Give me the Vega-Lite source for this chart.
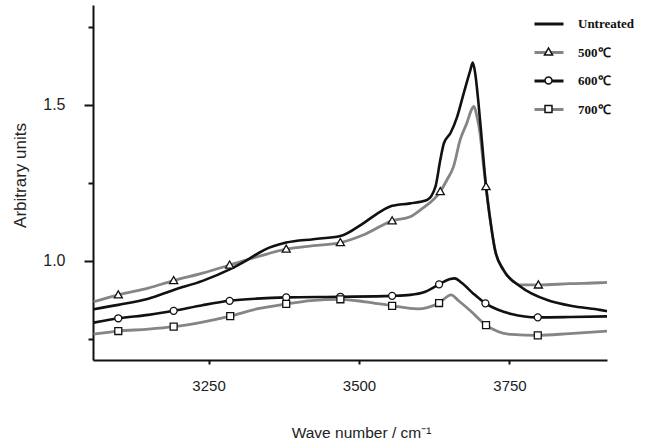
{
  "$schema": "https://vega.github.io/schema/vega-lite/v6.json",
  "width": 514,
  "height": 355,
  "autosize": {"type": "none"},
  "padding": {"left": 93, "top": 5, "right": 44, "bottom": 83},
  "background": "white",
  "config": {
    "view": {"stroke": null},
    "axis": {"grid": false, "domainColor": "#111", "domainWidth": 2, "tickColor": "#111", "tickWidth": 2, "labelColor": "#222", "titleColor": "#222", "labelFont": "Liberation Sans", "titleFont": "Liberation Sans", "titleFontWeight": "normal"}
  },
  "datasets": {
    "curves": [
      {"s": "Untreated", "w": 3059, "a": 0.844},
      {"s": "Untreated", "w": 3100, "a": 0.858},
      {"s": "Untreated", "w": 3150, "a": 0.878},
      {"s": "Untreated", "w": 3192, "a": 0.906},
      {"s": "Untreated", "w": 3240, "a": 0.935},
      {"s": "Untreated", "w": 3285, "a": 0.972},
      {"s": "Untreated", "w": 3314, "a": 1.002},
      {"s": "Untreated", "w": 3342, "a": 1.034},
      {"s": "Untreated", "w": 3379, "a": 1.058},
      {"s": "Untreated", "w": 3424, "a": 1.069},
      {"s": "Untreated", "w": 3469, "a": 1.079},
      {"s": "Untreated", "w": 3507, "a": 1.12},
      {"s": "Untreated", "w": 3535, "a": 1.157},
      {"s": "Untreated", "w": 3555, "a": 1.176},
      {"s": "Untreated", "w": 3585, "a": 1.184},
      {"s": "Untreated", "w": 3613, "a": 1.195},
      {"s": "Untreated", "w": 3627, "a": 1.238},
      {"s": "Untreated", "w": 3635, "a": 1.323},
      {"s": "Untreated", "w": 3641, "a": 1.377},
      {"s": "Untreated", "w": 3652, "a": 1.41},
      {"s": "Untreated", "w": 3663, "a": 1.462},
      {"s": "Untreated", "w": 3674, "a": 1.538},
      {"s": "Untreated", "w": 3685, "a": 1.612},
      {"s": "Untreated", "w": 3689, "a": 1.636},
      {"s": "Untreated", "w": 3693, "a": 1.602},
      {"s": "Untreated", "w": 3699, "a": 1.495},
      {"s": "Untreated", "w": 3704, "a": 1.388},
      {"s": "Untreated", "w": 3711, "a": 1.238},
      {"s": "Untreated", "w": 3718, "a": 1.131},
      {"s": "Untreated", "w": 3726, "a": 1.034},
      {"s": "Untreated", "w": 3740, "a": 0.97},
      {"s": "Untreated", "w": 3768, "a": 0.917},
      {"s": "Untreated", "w": 3815, "a": 0.872},
      {"s": "Untreated", "w": 3859, "a": 0.853},
      {"s": "Untreated", "w": 3900, "a": 0.842},
      {"s": "Untreated", "w": 3912, "a": 0.838},
      {"s": "500℃", "w": 3059, "a": 0.868},
      {"s": "500℃", "w": 3100, "a": 0.89},
      {"s": "500℃", "w": 3150, "a": 0.912},
      {"s": "500℃", "w": 3192, "a": 0.936},
      {"s": "500℃", "w": 3240, "a": 0.96},
      {"s": "500℃", "w": 3285, "a": 0.986},
      {"s": "500℃", "w": 3330, "a": 1.012},
      {"s": "500℃", "w": 3379, "a": 1.037},
      {"s": "500℃", "w": 3424, "a": 1.048},
      {"s": "500℃", "w": 3469, "a": 1.058},
      {"s": "500℃", "w": 3510, "a": 1.085},
      {"s": "500℃", "w": 3555, "a": 1.128},
      {"s": "500℃", "w": 3585, "a": 1.141},
      {"s": "500℃", "w": 3602, "a": 1.163},
      {"s": "500℃", "w": 3635, "a": 1.222},
      {"s": "500℃", "w": 3646, "a": 1.259},
      {"s": "500℃", "w": 3657, "a": 1.302},
      {"s": "500℃", "w": 3668, "a": 1.388},
      {"s": "500℃", "w": 3679, "a": 1.441},
      {"s": "500℃", "w": 3688, "a": 1.489},
      {"s": "500℃", "w": 3691, "a": 1.495},
      {"s": "500℃", "w": 3696, "a": 1.462},
      {"s": "500℃", "w": 3701, "a": 1.409},
      {"s": "500℃", "w": 3707, "a": 1.302},
      {"s": "500℃", "w": 3711, "a": 1.238},
      {"s": "500℃", "w": 3718, "a": 1.131},
      {"s": "500℃", "w": 3726, "a": 1.034},
      {"s": "500℃", "w": 3740, "a": 0.97},
      {"s": "500℃", "w": 3757, "a": 0.933},
      {"s": "500℃", "w": 3768, "a": 0.922},
      {"s": "500℃", "w": 3798, "a": 0.922},
      {"s": "500℃", "w": 3850, "a": 0.926},
      {"s": "500℃", "w": 3900, "a": 0.929},
      {"s": "500℃", "w": 3912, "a": 0.93},
      {"s": "600℃", "w": 3059, "a": 0.801},
      {"s": "600℃", "w": 3100, "a": 0.815},
      {"s": "600℃", "w": 3150, "a": 0.826},
      {"s": "600℃", "w": 3192, "a": 0.839},
      {"s": "600℃", "w": 3240, "a": 0.857},
      {"s": "600℃", "w": 3285, "a": 0.871},
      {"s": "600℃", "w": 3330, "a": 0.878},
      {"s": "600℃", "w": 3379, "a": 0.882},
      {"s": "600℃", "w": 3469, "a": 0.884},
      {"s": "600℃", "w": 3555, "a": 0.887},
      {"s": "600℃", "w": 3585, "a": 0.89},
      {"s": "600℃", "w": 3610, "a": 0.9},
      {"s": "600℃", "w": 3633, "a": 0.924},
      {"s": "600℃", "w": 3650, "a": 0.94},
      {"s": "600℃", "w": 3659, "a": 0.943},
      {"s": "600℃", "w": 3671, "a": 0.928},
      {"s": "600℃", "w": 3690, "a": 0.894},
      {"s": "600℃", "w": 3710, "a": 0.863},
      {"s": "600℃", "w": 3730, "a": 0.843},
      {"s": "600℃", "w": 3753, "a": 0.829},
      {"s": "600℃", "w": 3797, "a": 0.818},
      {"s": "600℃", "w": 3850, "a": 0.819},
      {"s": "600℃", "w": 3912, "a": 0.821},
      {"s": "700℃", "w": 3059, "a": 0.764},
      {"s": "700℃", "w": 3100, "a": 0.774},
      {"s": "700℃", "w": 3150, "a": 0.78},
      {"s": "700℃", "w": 3192, "a": 0.788},
      {"s": "700℃", "w": 3240, "a": 0.803},
      {"s": "700℃", "w": 3286, "a": 0.822},
      {"s": "700℃", "w": 3330, "a": 0.845},
      {"s": "700℃", "w": 3379, "a": 0.861},
      {"s": "700℃", "w": 3420, "a": 0.872},
      {"s": "700℃", "w": 3469, "a": 0.876},
      {"s": "700℃", "w": 3510, "a": 0.868},
      {"s": "700℃", "w": 3555, "a": 0.855},
      {"s": "700℃", "w": 3597, "a": 0.845},
      {"s": "700℃", "w": 3633, "a": 0.864},
      {"s": "700℃", "w": 3653, "a": 0.89},
      {"s": "700℃", "w": 3665, "a": 0.872},
      {"s": "700℃", "w": 3685, "a": 0.839},
      {"s": "700℃", "w": 3711, "a": 0.793},
      {"s": "700℃", "w": 3753, "a": 0.763},
      {"s": "700℃", "w": 3797, "a": 0.76},
      {"s": "700℃", "w": 3850, "a": 0.766},
      {"s": "700℃", "w": 3912, "a": 0.774}
    ],
    "markers": [
      {"s": "500℃", "w": 3100, "a": 0.89},
      {"s": "500℃", "w": 3192, "a": 0.936},
      {"s": "500℃", "w": 3285, "a": 0.986},
      {"s": "500℃", "w": 3379, "a": 1.037},
      {"s": "500℃", "w": 3469, "a": 1.058},
      {"s": "500℃", "w": 3555, "a": 1.128},
      {"s": "500℃", "w": 3635, "a": 1.222},
      {"s": "500℃", "w": 3711, "a": 1.238},
      {"s": "500℃", "w": 3798, "a": 0.922},
      {"s": "600℃", "w": 3100, "a": 0.815},
      {"s": "600℃", "w": 3192, "a": 0.839},
      {"s": "600℃", "w": 3285, "a": 0.871},
      {"s": "600℃", "w": 3379, "a": 0.882},
      {"s": "600℃", "w": 3469, "a": 0.884},
      {"s": "600℃", "w": 3555, "a": 0.887},
      {"s": "600℃", "w": 3633, "a": 0.924},
      {"s": "600℃", "w": 3710, "a": 0.863},
      {"s": "600℃", "w": 3797, "a": 0.818},
      {"s": "700℃", "w": 3100, "a": 0.774},
      {"s": "700℃", "w": 3192, "a": 0.788},
      {"s": "700℃", "w": 3286, "a": 0.822},
      {"s": "700℃", "w": 3379, "a": 0.861},
      {"s": "700℃", "w": 3469, "a": 0.876},
      {"s": "700℃", "w": 3555, "a": 0.855},
      {"s": "700℃", "w": 3633, "a": 0.864},
      {"s": "700℃", "w": 3711, "a": 0.793},
      {"s": "700℃", "w": 3797, "a": 0.76}
    ]
  },
  "encoding": {
    "x": {
      "field": "w", "type": "quantitative",
      "scale": {"domain": [3058, 3912], "nice": false, "zero": false},
      "axis": {"values": [3250, 3500, 3750], "format": "d", "tickSize": 4, "labelFontSize": 15, "labelPadding": 14, "title": "Wave number / cm⁻¹", "titleFontSize": 15.5, "titleX": 268, "titleY": 65, "titleBaseline": "top", "titleAlign": "center"}
    },
    "y": {
      "field": "a", "type": "quantitative",
      "scale": {"domain": [0.681, 1.821], "nice": false, "zero": false},
      "axis": {"values": [0.75, 1, 1.25, 1.5, 1.75], "labelExpr": "datum.value == 1 || datum.value == 1.5 ? format(datum.value, '.1f') : ''", "tickSize": {"condition": {"test": "datum.value == 1 || datum.value == 1.5", "value": 9}, "value": 5}, "labelFontSize": 16, "labelPadding": 19, "title": "Arbitrary units", "titleFontSize": 17, "titleX": -64, "titleY": 170, "titleAngle": 270, "titleBaseline": "bottom", "titleAlign": "center"}
    }
  },
  "layer": [
    {
      "data": {"name": "curves"},
      "transform": [{"filter": {"field": "s", "oneOf": ["500℃", "700℃"]}}],
      "mark": {"type": "line", "interpolate": "monotone", "strokeWidth": 2.8},
      "encoding": {
        "color": {"field": "s", "type": "nominal", "sort": ["Untreated", "500℃", "600℃", "700℃"], "scale": {"range": ["#111111", "#858585", "#111111", "#858585"]},
          "legend": {"orient": "none", "legendX": 440, "legendY": 3, "padding": 0, "rowPadding": 5.5, "title": null, "symbolType": "M-1,0H1", "symbolSize": 841, "symbolStrokeWidth": 3, "labelOffset": 13, "labelFont": "Liberation Serif", "labelFontWeight": "bold", "labelFontSize": 13, "labelColor": "#111"}}
      }
    },
    {
      "data": {"name": "curves"},
      "transform": [{"filter": {"field": "s", "oneOf": ["Untreated", "600℃"]}}],
      "mark": {"type": "line", "interpolate": "monotone", "strokeWidth": 2.6},
      "encoding": {
        "color": {"field": "s", "type": "nominal", "sort": ["Untreated", "500℃", "600℃", "700℃"]}
      }
    },
    {
      "data": {"name": "markers"},
      "mark": {"type": "point", "filled": false, "fill": "white", "stroke": "#111", "strokeWidth": 1.3, "size": 841, "opacity": 1},
      "encoding": {
        "shape": {"field": "s", "type": "nominal",
          "scale": {"domain": ["Untreated", "500℃", "600℃", "700℃"], "range": ["M0,0", "M-0.28,0.21L0,-0.28L0.28,0.21Z", "M-0.24,0A0.24,0.24,0,1,0,0.24,0A0.24,0.24,0,1,0,-0.24,0Z", "M-0.24,-0.24H0.24V0.24H-0.24Z"]},
          "legend": {"orient": "none", "legendX": 440, "legendY": 3, "padding": 0, "rowPadding": 5.5, "title": null, "symbolSize": 841, "labelOffset": 13, "labelFont": "Liberation Serif", "labelFontWeight": "bold", "labelFontSize": 13, "labelOpacity": 0,
            "encode": {"symbols": {"update": {"stroke": {"value": "#111"}, "fill": {"value": "white"}, "strokeWidth": {"value": 1.3}, "opacity": {"value": 1}}}}}}
      }
    }
  ]
}
